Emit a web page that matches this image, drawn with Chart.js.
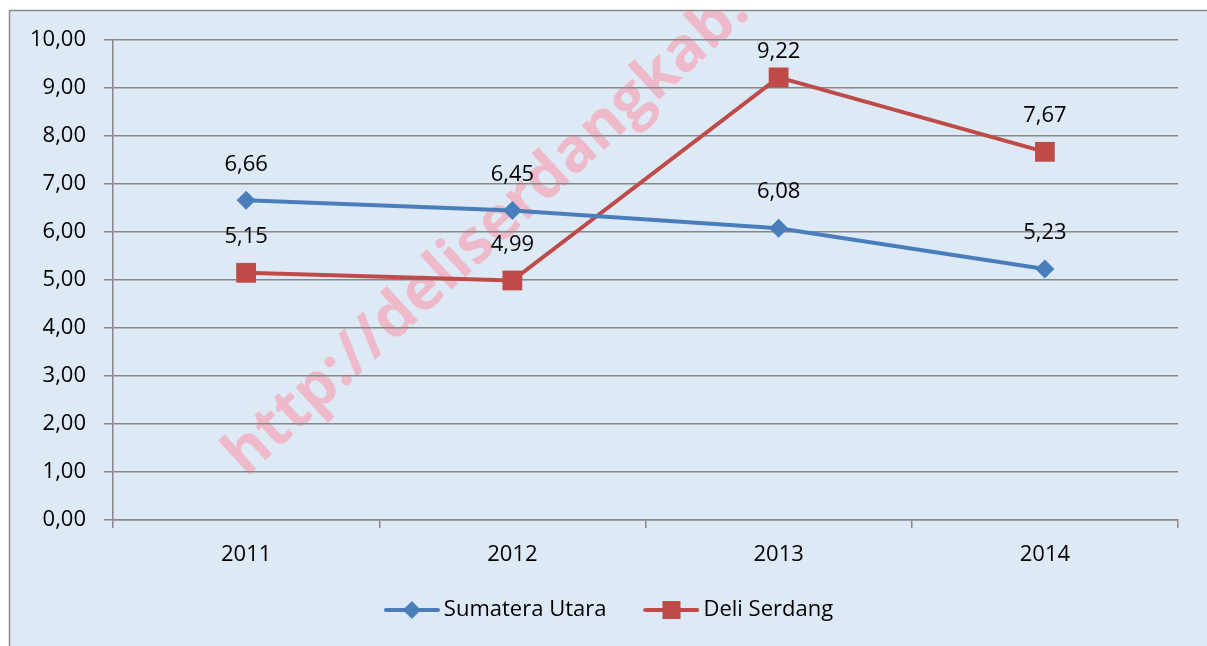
<!DOCTYPE html>
<html>
<head>
<meta charset="utf-8">
<script src="https://cdn.jsdelivr.net/npm/chart.js@4/dist/chart.umd.min.js"></script>
<style>
  html, body { margin: 0; padding: 0; background: #fff; overflow: hidden; }
  #wrap { position: absolute; left: 0; top: 0; width: 1207px; height: 646px; }
</style>
</head>
<body>
<div id="wrap"><canvas id="chart" width="1207" height="646"></canvas></div>
<script>
// data
const years = ['2011', '2012', '2013', '2014'];
const sumateraUtara = [6.66, 6.45, 6.08, 5.23];
const deliSerdang = [5.15, 4.99, 9.22, 7.67];
const seriesNames = ['Sumatera Utara', 'Deli Serdang'];
const yMin = 0, yMax = 10, yStep = 1;

const blue = '#4a7ebb';
const red = '#be4b48';
const gridGray = '#878787';
const fontFamily = '"Open Sans", Lato, sans-serif';

const fmt = v => v.toFixed(2).replace('.', ',');

// legend symbols: a short line with the marker on it
function legendSymbol(color, shape) {
    const c = document.createElement('canvas');
    c.width = 56; c.height = 22;
    const g = c.getContext('2d');
    g.strokeStyle = color;
    g.lineWidth = 4;
    g.lineCap = 'round';
    g.beginPath(); g.moveTo(2, 11); g.lineTo(54, 11); g.stroke();
    g.fillStyle = color;
    g.beginPath();
    if (shape === 'diamond') {
        g.moveTo(28, 2); g.lineTo(37, 11); g.lineTo(28, 20); g.lineTo(19, 11);
    } else {
        g.rect(19, 2, 18, 18);
    }
    g.closePath(); g.fill();
    return c;
}
const legendImgs = [legendSymbol(blue, 'diamond'), legendSymbol(red, 'square')];

// background panel + watermark
const backdrop = {
    id: 'backdrop',
    beforeDraw(chart) {
        const ctx = chart.ctx;
        ctx.save();
        ctx.fillStyle = '#ffffff';
        ctx.fillRect(0, 0, chart.width, chart.height);
        ctx.fillStyle = '#dde9f5';
        ctx.fillRect(9, 10, chart.width, chart.height);
        ctx.strokeStyle = '#8c8c8c';
        ctx.lineWidth = 1.5;
        ctx.strokeRect(9.5, 10.5, chart.width + 10, chart.height + 10);

        ctx.beginPath();
        ctx.rect(10, 11, chart.width, chart.height);
        ctx.clip();
        ctx.translate(246, 478);
        ctx.rotate(-42.5 * Math.PI / 180);
        ctx.font = 'bold 61px ' + fontFamily;
        ctx.fillStyle = 'rgba(255, 140, 160, 0.5)';
        ctx.textBaseline = 'alphabetic';
        ctx.fillText('http://deliserdangkab.bps.go.id', 0, 0);
        ctx.restore();
    }
};

// move the legend to where it sits in the picture
const legendPlace = {
    id: 'legendPlace',
    afterLayout(chart) {
        const lg = chart.legend;
        lg.left += 23; lg.right += 23;
        lg.top -= 15; lg.bottom -= 15;
    }
};

// value labels above points
const valueLabels = {
    id: 'valueLabels',
    afterDatasetsDraw(chart) {
        const ctx = chart.ctx;
        ctx.save();
        ctx.font = '22px ' + fontFamily;
        ctx.fillStyle = '#000';
        ctx.textAlign = 'center';
        ctx.textBaseline = 'middle';
        chart.data.datasets.forEach((ds, i) => {
            chart.getDatasetMeta(i).data.forEach((pt, j) => {
                const y = Math.max(pt.y - 36, chart.chartArea.top + 12);
                ctx.fillText(fmt(ds.data[j]), pt.x, y);
            });
        });
        ctx.restore();
    }
};

new Chart(document.getElementById('chart'), {
    type: 'line',
    data: {
        labels: years,
        datasets: [{
            label: seriesNames[0],
            data: sumateraUtara,
            borderColor: blue,
            backgroundColor: blue,
            borderWidth: 4,
            pointStyle: 'rectRot',
            pointRadius: 9.5,
            pointHoverRadius: 9.5,
            pointBorderWidth: 0,
            tension: 0
        }, {
            label: seriesNames[1],
            data: deliSerdang,
            borderColor: red,
            backgroundColor: red,
            borderWidth: 4,
            pointStyle: 'rect',
            pointRadius: 14,
            pointHoverRadius: 14,
            pointBorderWidth: 0,
            tension: 0
        }]
    },
    options: {
        responsive: false,
        animation: false,
        events: [],
        layout: { padding: { top: 40, right: 29, left: 0, bottom: 0 } },
        plugins: {
            tooltip: { enabled: false },
            legend: {
                position: 'bottom',
                labels: {
                    usePointStyle: true,
                    pointStyleWidth: 42,
                    padding: 44,
                    color: '#000',
                    font: { family: fontFamily, size: 22 },
                    generateLabels(chart) {
                        const items = Chart.defaults.plugins.legend.labels.generateLabels(chart);
                        items.forEach((it, i) => { it.pointStyle = legendImgs[i]; });
                        return items;
                    }
                }
            }
        },
        scales: {
            x: {
                offset: true,
                afterFit(s) { s.height = 50; },
                grid: {
                    offset: true,
                    drawOnChartArea: false,
                    drawTicks: true,
                    tickLength: 8,
                    color: gridGray,
                    lineWidth: 1.5
                },
                border: { display: true, color: gridGray, width: 1.5 },
                ticks: {
                    padding: 14,
                    color: '#000',
                    font: { family: fontFamily, size: 22 }
                }
            },
            y: {
                min: yMin,
                max: yMax,
                afterFit(s) { s.width = 113; },
                grid: {
                    color: gridGray,
                    lineWidth: 1.5,
                    tickLength: 9
                },
                border: { display: true, color: gridGray, width: 1.5 },
                ticks: {
                    stepSize: yStep,
                    padding: 18,
                    color: '#000',
                    font: { family: fontFamily, size: 22 },
                    callback: v => fmt(v)
                }
            }
        }
    },
    plugins: [backdrop, legendPlace, valueLabels]
});
</script>
</body>
</html>
